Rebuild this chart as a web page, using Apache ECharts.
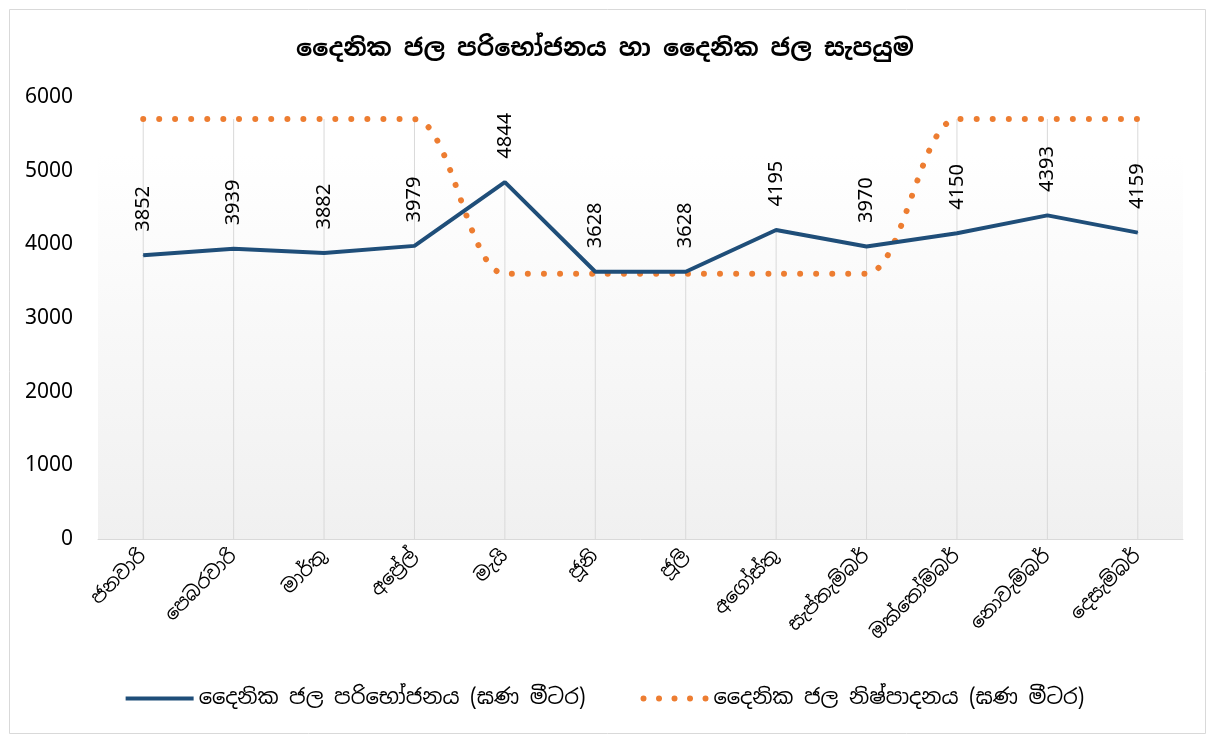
<!DOCTYPE html>
<html>
<head>
<meta charset="utf-8">
<script src="https://cdn.jsdelivr.net/npm/echarts@6/dist/echarts.min.js"></script>
<style>html,body{margin:0;padding:0;background:#fff}#c{width:1210px;height:738px}</style>
</head>
<body>
<div id="c"></div>
<script>
const titleText = 'දෛනික ජල පරිභෝජනය හා දෛනික ජල සැපයුම';
const months = ['ජනවාරි','පෙබරවාරි','මාර්තු','අප්‍රේල්','මැයි','ජූනි','ජූලි','අගෝස්තු','සැප්තැම්බර්','ඔක්තෝම්බර්','නොවැම්බර්','දෙසැම්බර්'];
const consumptionName = 'දෛනික ජල පරිභෝජනය (ඝණ මීටර)';
const productionName = 'දෛනික ජල නිෂ්පාදනය (ඝණ මීටර)';
const consumption = [3852, 3939, 3882, 3979, 4844, 3628, 3628, 4195, 3970, 4150, 4393, 4159];
const production = [5700, 5700, 5700, 5700, 3600, 3600, 3600, 3600, 3600, 5700, 5700, 5700];
const yTicks = [0, 1000, 2000, 3000, 4000, 5000, 6000];

const dropLines = consumption.map((v, i) => Math.max(v, production[i]));
const font = "'Noto Sans Sinhala','Iskoola Pota','Noto Sans',sans-serif";
const numFont = "'Noto Sans',sans-serif";

const lineIcon = 'path://M0,0M0,6M0,1H68V5H0Z';
let dots = '';
for (let k = 0; k < 5; k++) {
  const cx = 3 + k * 15.5;
  dots += 'M' + (cx - 3) + ',3a3,3 0 1,0 6,0a3,3 0 1,0 -6,0Z';
}
const dotIcon = 'path://' + dots;

const chart = echarts.init(document.getElementById('c'), null, {renderer: 'canvas'});
chart.setOption({
  animation: false,
  backgroundColor: '#fff',
  title: {
    text: titleText, left: 'center', top: 32,
    textStyle: {fontSize: 24, fontWeight: 'bold', color: '#000', fontFamily: font}
  },
  graphic: [{
    type: 'rect', left: 7, top: 7, z: -1,
    shape: {width: 1196, height: 724},
    style: {fill: 'none', stroke: '#d9d9d9', lineWidth: 1}
  }],
  grid: {
    left: 98, right: 27, top: 97, bottom: 199,
    show: true, borderWidth: 0,
    backgroundColor: {
      type: 'linear', x: 0, y: 0, x2: 0, y2: 1,
      colorStops: [{offset: 0, color: '#ffffff'}, {offset: 0.13, color: '#ffffff'}, {offset: 1, color: '#f0f0f0'}]
    }
  },
  legend: {
    bottom: 24, left: 'center', itemGap: 55, itemWidth: 68, itemHeight: 6,
    data: [
      {name: consumptionName, icon: lineIcon},
      {name: productionName, icon: dotIcon}
    ],
    textStyle: {fontSize: 21, color: '#000', fontFamily: font}
  },
  xAxis: {
    type: 'category', data: months, boundaryGap: true,
    axisLine: {lineStyle: {color: '#d9d9d9', width: 1}},
    axisTick: {show: false},
    axisLabel: {rotate: 45, fontSize: 19, color: '#000', margin: 14, fontFamily: font, interval: 0}
  },
  yAxis: {
    type: 'value', min: yTicks[0], max: yTicks[yTicks.length - 1], interval: 1000,
    axisLine: {show: false}, axisTick: {show: false}, splitLine: {show: false},
    axisLabel: {fontSize: 21, color: '#000', margin: 25, fontFamily: numFont, formatter: v => String(v)}
  },
  series: [
    {
      name: 'drop', type: 'bar', data: dropLines, barWidth: 1, silent: true, z: 1,
      itemStyle: {color: '#d9d9d9'}, legendHoverLink: false, tooltip: {show: false}
    },
    {
      name: productionName, type: 'line', data: production, smooth: 0.3,
      symbol: 'none', z: 3,
      lineStyle: {color: '#ED7D31', width: 6, type: [0.01, 16], cap: 'round'},
      itemStyle: {color: '#ED7D31'}
    },
    {
      name: consumptionName, type: 'line', data: consumption,
      symbol: 'circle', symbolSize: 1, showSymbol: true, z: 4,
      lineStyle: {color: '#1F4E79', width: 4},
      itemStyle: {color: '#1F4E79'},
      label: {
        show: true, position: 'top', distance: 23, rotate: 90,
        align: 'left', verticalAlign: 'middle',
        fontSize: 20, color: '#000', fontFamily: numFont
      }
    }
  ]
});
</script>
</body>
</html>
